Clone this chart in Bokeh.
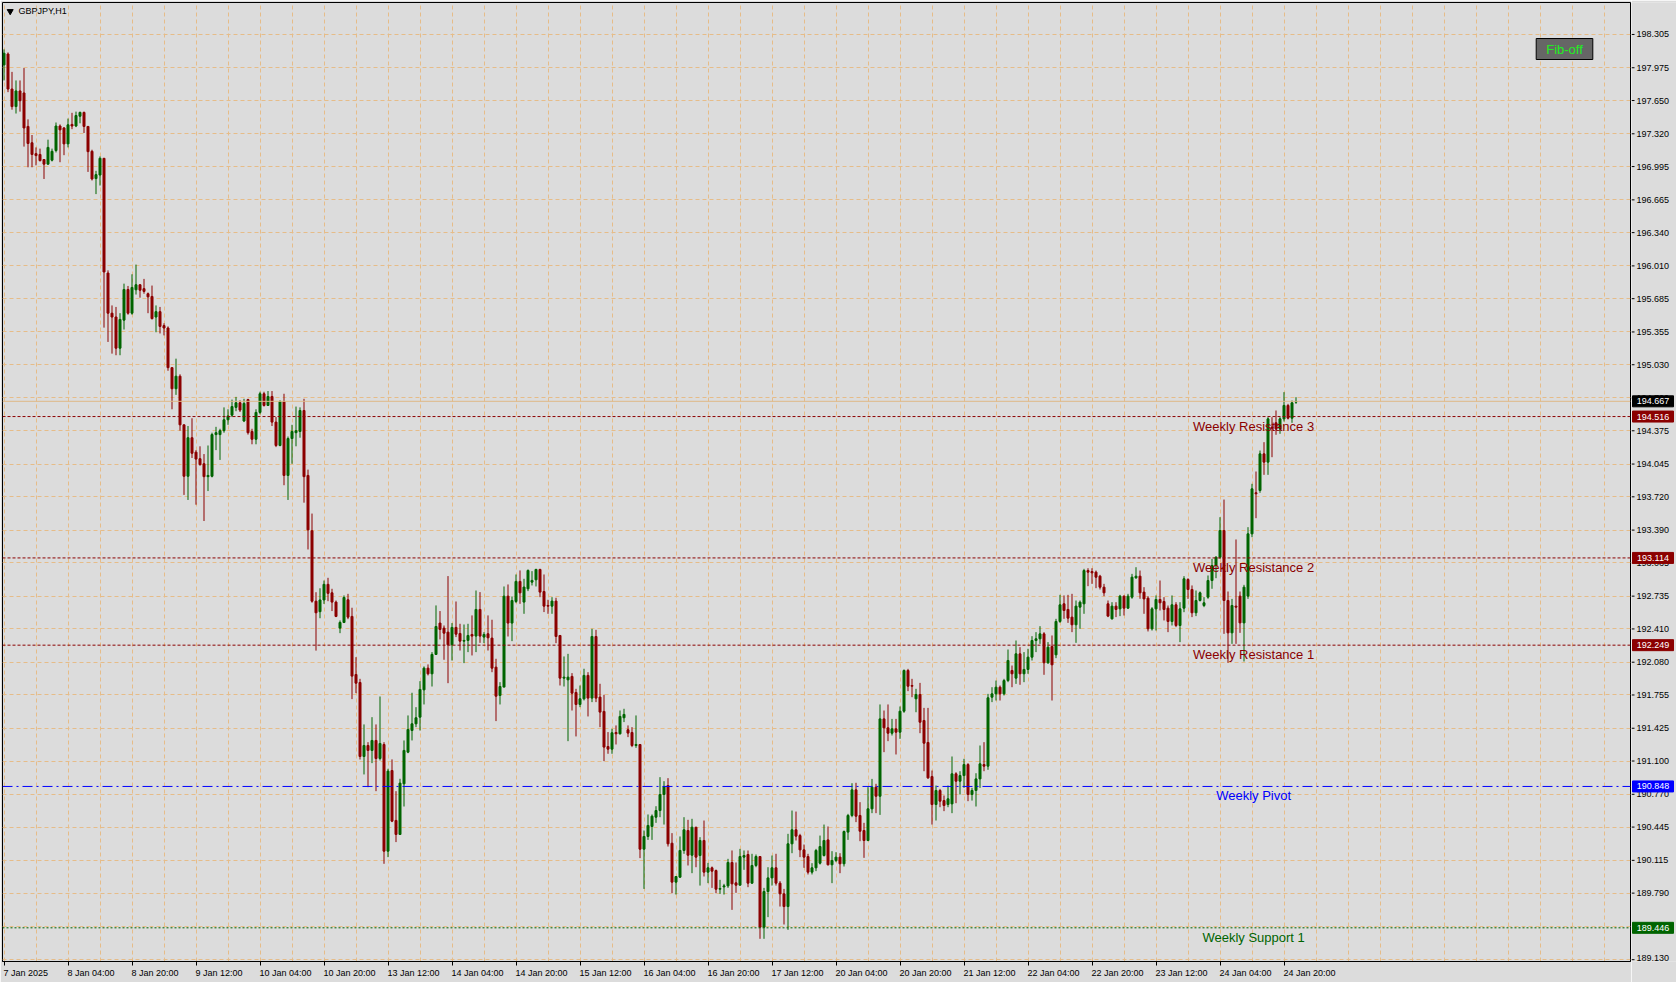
from bokeh.plotting import figure
from bokeh.layouts import row
from bokeh.models import Range1d, FixedTicker, Label, Span, ColumnDataSource
from bokeh.core.properties import value
from bokeh.embed import file_html
from bokeh.resources import INLINE

symbol = "GBPJPY,H1"

opens = [198.003,198.111,197.764,197.590,197.745,197.725,197.393,197.231,197.123,197.115,
197.065,197.019,197.058,197.154,197.397,197.378,197.220,197.413,197.397,197.494,
197.532,197.393,197.146,196.876,196.911,197.077,195.939,195.541,195.503,195.194,
195.472,195.776,195.541,195.773,195.823,195.784,195.734,195.707,195.503,195.556,
195.418,195.394,195.001,194.792,194.916,194.434,193.924,194.306,194.163,194.098,
194.048,193.920,193.924,194.337,194.337,194.376,194.484,194.530,194.607,194.653,
194.472,194.684,194.368,194.291,194.557,194.742,194.626,194.715,194.461,194.229,
194.665,193.932,194.298,194.356,194.368,194.576,193.932,193.384,192.685,192.581,
192.697,192.852,192.768,192.676,192.418,192.474,192.699,192.534,191.958,191.879,
191.145,191.254,191.205,191.304,191.125,191.264,190.206,191.006,190.511,190.372,
190.874,191.188,191.403,191.469,191.535,191.806,192.021,191.965,192.157,192.468,
192.418,192.378,192.253,192.425,192.365,192.289,192.296,192.355,192.339,192.603,
192.329,192.362,192.319,192.031,191.750,191.833,192.735,192.468,192.682,192.881,
192.676,192.808,192.874,192.897,193.000,192.781,192.643,192.636,192.686,192.345,
191.922,191.905,191.939,191.780,191.661,191.717,191.949,191.724,192.335,191.734,
191.592,191.244,191.218,191.383,191.370,191.529,191.410,191.383,191.254,191.264,
190.226,190.352,190.451,190.543,190.609,190.768,190.857,190.285,189.899,189.948,
190.213,190.411,190.166,190.444,190.163,190.312,189.998,190.041,190.014,189.829,
189.852,189.862,190.094,189.892,189.869,190.147,190.173,189.889,190.064,190.153,
189.452,189.806,189.941,190.041,189.889,189.783,189.657,190.279,190.418,190.361,
190.219,190.153,189.998,190.041,190.087,190.163,190.318,190.071,190.114,190.147,
190.081,190.395,190.560,190.814,190.560,190.411,190.312,190.626,190.841,190.751,
191.518,191.429,191.376,191.419,191.386,191.594,191.998,191.849,191.717,191.760,
191.502,191.284,190.946,190.669,190.808,190.708,190.669,190.675,190.973,190.900,
190.956,191.065,190.768,190.808,190.923,191.065,191.049,191.733,191.766,191.832,
191.766,191.898,191.998,191.922,192.163,191.965,192.008,192.130,192.295,192.312,
192.361,192.074,192.236,192.153,192.484,192.659,192.603,192.527,192.451,192.626,
192.659,192.989,192.979,192.973,192.933,192.824,192.659,192.510,192.636,192.609,
192.735,192.616,192.725,192.917,192.933,192.775,192.715,192.411,192.609,192.702,
192.682,192.616,192.484,192.649,192.444,192.616,192.900,192.801,192.570,192.692,
192.642,192.725,192.890,193.039,193.121,193.386,192.692,192.371,192.636,192.735,
192.470,192.735,193.353,193.760,193.783,194.146,194.064,194.411,194.454,194.394,
194.493,194.626,194.500,194.659]

highs = [198.157,198.127,197.934,197.849,197.849,197.972,197.463,197.308,197.185,197.173,
197.065,197.262,197.173,197.432,197.413,197.386,197.471,197.528,197.540,197.540,
197.540,197.393,197.162,196.953,197.096,197.077,195.966,195.618,195.603,195.541,
195.834,195.811,195.927,196.023,195.827,195.881,195.746,195.815,195.618,195.603,
195.441,195.410,195.001,195.090,194.935,194.434,194.422,194.499,194.183,194.221,
194.144,194.229,194.356,194.414,194.395,194.607,194.588,194.684,194.711,194.677,
194.692,194.692,194.395,194.588,194.762,194.762,194.769,194.769,194.511,194.677,
194.742,194.318,194.434,194.615,194.607,194.692,193.990,193.554,192.774,192.813,
192.890,192.917,192.808,192.692,192.494,192.742,192.758,192.620,192.130,191.915,
191.463,191.287,191.535,191.463,191.740,191.287,191.023,191.116,190.801,190.924,
191.304,191.552,191.777,191.634,191.892,192.038,192.058,192.180,192.643,192.587,
192.444,192.934,192.468,192.682,192.461,192.454,192.461,192.544,192.791,192.775,
192.378,192.544,192.501,192.114,191.882,192.831,192.851,192.732,192.950,192.990,
192.907,193.000,192.983,193.006,193.006,192.950,192.699,192.725,192.719,192.345,
192.137,192.163,191.972,191.816,191.849,192.015,191.981,192.411,192.401,191.866,
191.757,191.387,191.420,191.453,191.601,191.618,191.453,191.436,191.552,191.264,
190.411,190.570,190.570,190.652,190.940,190.900,190.930,190.385,189.955,190.352,
190.543,190.517,190.527,190.444,190.345,190.510,190.090,190.054,190.024,189.922,
189.882,190.130,190.213,190.094,190.229,190.213,190.213,190.180,190.173,190.153,
189.842,190.047,190.163,190.180,189.909,189.832,190.378,190.609,190.599,190.378,
190.272,190.180,190.087,190.229,190.361,190.470,190.451,190.206,190.196,190.186,
190.411,190.576,190.880,190.884,190.692,190.487,190.841,190.923,190.874,191.661,
191.601,191.661,191.518,191.518,191.641,192.008,192.014,191.915,191.816,191.875,
191.627,191.627,191.006,190.857,190.824,190.758,190.857,191.145,190.989,190.999,
191.122,191.079,190.834,190.979,191.254,191.287,191.766,191.832,191.898,191.849,
191.915,192.206,192.047,192.295,192.229,192.180,192.213,192.338,192.378,192.437,
192.378,192.279,192.345,192.510,192.748,192.742,192.748,192.758,192.692,192.692,
193.006,193.012,193.012,192.989,192.946,192.857,192.692,192.675,192.675,192.748,
192.742,192.758,192.956,193.022,192.989,192.824,192.735,192.626,192.742,192.890,
192.725,192.642,192.742,192.675,192.675,192.933,192.913,192.841,192.791,192.781,
192.725,192.940,193.105,193.131,193.518,193.693,192.781,192.708,193.297,192.781,
192.847,193.419,193.849,193.971,194.179,194.262,194.510,194.510,194.576,194.510,
194.758,194.642,194.675,194.708]

lows = [197.849,197.733,197.559,197.521,197.540,197.193,196.988,196.988,197.007,197.046,
196.872,197.015,197.046,197.135,197.038,197.108,197.185,197.366,197.386,197.424,
197.328,196.942,196.857,196.722,196.807,195.398,195.256,195.140,195.124,195.124,
195.379,195.526,195.526,195.726,195.695,195.734,195.541,195.479,195.352,195.340,
195.321,194.970,194.588,194.731,194.376,193.739,193.689,194.105,193.642,194.028,
193.480,193.777,193.913,194.183,194.086,194.356,194.434,194.511,194.569,194.561,
194.461,194.337,194.241,194.241,194.538,194.615,194.626,194.422,194.213,194.221,
193.835,193.689,194.048,194.221,194.306,193.662,193.198,192.670,192.195,192.516,
192.658,192.685,192.587,192.527,192.368,192.468,192.507,191.714,191.773,191.115,
190.967,190.841,191.079,190.801,191.106,190.081,190.147,190.494,190.296,190.372,
190.649,191.178,191.304,191.436,191.403,191.661,191.949,191.839,192.157,192.306,
192.104,191.872,192.097,192.329,192.196,192.071,192.180,192.147,192.180,192.272,
192.269,192.196,191.981,191.496,191.661,191.833,192.335,192.289,192.666,192.659,
192.560,192.785,192.841,192.831,192.725,192.577,192.560,192.560,192.269,191.849,
191.839,191.297,191.601,191.344,191.634,191.701,191.542,191.684,191.684,191.436,
191.099,191.172,191.172,191.264,191.363,191.486,191.337,191.238,191.231,190.137,
189.832,190.318,190.318,190.487,190.543,190.470,190.252,189.789,189.776,189.942,
190.180,190.064,189.988,190.047,189.865,189.955,189.889,189.842,189.789,189.783,
189.776,189.842,189.624,189.793,189.865,190.021,189.849,189.882,190.047,189.337,
189.337,189.552,189.865,189.865,189.657,189.479,189.426,190.186,190.312,190.147,
190.041,189.975,189.975,190.008,190.074,190.153,190.064,189.889,190.097,189.988,
190.054,190.318,190.543,190.494,190.305,190.140,190.305,190.583,190.583,190.566,
191.188,191.297,191.353,191.165,191.320,191.578,191.793,191.733,191.584,191.376,
190.999,190.923,190.470,190.510,190.642,190.603,190.642,190.583,190.682,190.768,
190.834,190.702,190.708,190.649,190.834,190.999,191.013,191.684,191.700,191.700,
191.750,191.882,191.832,191.865,191.856,191.882,191.965,192.097,192.180,192.262,
191.955,192.064,191.700,192.120,192.470,192.510,192.470,192.378,192.272,192.411,
192.560,192.834,192.857,192.814,192.801,192.735,192.527,192.503,192.527,192.537,
192.543,192.609,192.709,192.907,192.709,192.560,192.385,192.394,192.394,192.593,
192.494,192.378,192.444,192.428,192.279,192.576,192.708,192.527,192.537,192.682,
192.626,192.709,192.808,192.913,193.105,192.361,192.074,192.262,192.262,192.371,
192.087,192.708,193.320,193.508,193.760,193.938,193.938,194.113,194.335,194.345,
194.467,194.487,194.454,194.642]

closes = [198.119,197.764,197.590,197.745,197.648,197.378,197.224,197.115,197.104,197.054,
197.019,197.185,197.146,197.397,197.359,197.220,197.409,197.397,197.501,197.532,
197.393,197.143,196.872,196.915,197.077,195.950,195.541,195.503,195.194,195.479,
195.776,195.541,195.796,195.823,195.769,195.757,195.703,195.487,195.556,195.410,
195.394,195.001,194.792,194.916,194.434,193.924,194.306,194.152,194.094,194.040,
193.920,193.932,194.337,194.356,194.376,194.484,194.522,194.615,194.653,194.580,
194.646,194.356,194.291,194.557,194.742,194.626,194.715,194.461,194.229,194.665,
193.932,194.298,194.368,194.376,194.576,193.920,193.392,192.685,192.570,192.697,
192.852,192.763,192.676,192.534,192.474,192.722,192.527,191.942,191.872,191.145,
191.254,191.205,191.304,191.125,191.274,190.206,191.000,190.504,190.372,190.881,
191.205,191.413,191.469,191.529,191.810,192.021,191.965,192.157,192.434,192.405,
192.368,192.253,192.425,192.358,192.289,192.296,192.345,192.339,192.603,192.339,
192.355,192.322,192.021,191.743,191.839,192.735,192.468,192.692,192.881,192.768,
192.825,192.990,192.891,193.000,192.775,192.636,192.636,192.686,192.335,191.922,
191.932,191.932,191.773,191.661,191.717,191.949,191.724,192.335,191.724,191.585,
191.238,191.218,191.380,191.370,191.542,191.562,191.377,191.254,191.264,190.226,
190.352,190.461,190.553,190.609,190.768,190.847,190.279,189.899,189.955,190.213,
190.418,190.166,190.444,190.147,190.312,189.998,190.041,190.008,189.829,189.836,
189.862,190.094,189.882,189.869,190.153,190.163,189.889,190.064,190.153,189.452,
189.806,189.941,190.041,189.889,189.783,189.657,190.279,190.418,190.355,190.219,
190.147,189.998,190.041,190.213,190.252,190.312,190.071,190.114,190.147,190.081,
190.401,190.560,190.814,190.553,190.404,190.312,190.626,190.841,190.751,191.518,
191.429,191.376,191.419,191.386,191.594,191.998,191.842,191.842,191.760,191.485,
191.277,190.933,190.669,190.808,190.702,190.659,190.725,190.973,190.900,190.956,
191.065,190.768,190.808,190.923,191.072,191.049,191.727,191.766,191.832,191.766,
191.898,192.097,191.965,192.163,191.965,192.008,192.130,192.295,192.312,192.361,
192.074,192.229,192.054,192.484,192.649,192.593,192.517,192.451,192.636,192.675,
192.989,192.973,192.966,192.923,192.824,192.768,192.537,192.636,192.603,192.735,
192.616,192.735,192.923,192.933,192.768,192.708,192.411,192.609,192.702,192.669,
192.603,192.484,192.649,192.444,192.609,192.907,192.801,192.570,192.692,192.768,
192.669,192.890,193.039,193.121,193.386,192.692,192.371,192.642,192.626,192.470,
192.824,193.353,193.799,193.750,194.146,194.064,194.493,194.401,194.394,194.493,
194.626,194.500,194.652,194.667]

x_tick_step = 16
x_tick_labels = ["7 Jan 2025", "8 Jan 04:00", "8 Jan 20:00", "9 Jan 12:00", "10 Jan 04:00",
                 "10 Jan 20:00", "13 Jan 12:00", "14 Jan 04:00", "14 Jan 20:00", "15 Jan 12:00",
                 "16 Jan 04:00", "16 Jan 20:00", "17 Jan 12:00", "20 Jan 04:00", "20 Jan 20:00",
                 "21 Jan 12:00", "22 Jan 04:00", "22 Jan 20:00", "23 Jan 12:00", "24 Jan 04:00",
                 "24 Jan 20:00"]

y_tick_labels = ["198.305", "197.975", "197.650", "197.320", "196.995", "196.665", "196.340",
                 "196.010", "195.685", "195.355", "195.030", "194.700", "194.375", "194.045",
                 "193.720", "193.390", "193.065", "192.735", "192.410", "192.080", "191.755",
                 "191.425", "191.100", "190.770", "190.445", "190.115", "189.790", "189.130"]
hidden_grid_prices = [189.460]

level_names = ["Weekly Resistance 3", "Weekly Resistance 2", "Weekly Resistance 1",
               "Weekly Pivot", "Weekly Support 1"]
level_prices = [194.516, 193.114, 192.249, 190.848, 189.446]
level_colors = ["#8B0000", "#8B0000", "#8B0000", "#0000FF", "#006400"]
level_dashes = ["3 2", "3 2", "3 2", "10 4 2 4", "2 2"]
level_label_bar = 312.4
bid_price = 194.667

BULL, BEAR = "#006400", "#8B0000"
BG = "#DCDCDC"
GRID = "#E6BC88"
FONT = "Liberation Sans"

# ---- geometry (pixels) ----
TOTAL_W, TOTAL_H = 1676, 982
AXIS_W = 45
MW = TOTAL_W - AXIS_W
FL, FT, FR, FB = 2, 2, 1, 21
fw, fh = MW - FL - FR, TOTAL_H - FT - FB
BAR_PX = 4.0
x0 = -0.375
x1 = x0 + fw / BAR_PX
y0, y1 = 189.112, 198.622
ppy = (y1 - y0) / fh
ppx = (x1 - x0) / fw
yr = Range1d(y0, y1)

p = figure(width=MW, height=TOTAL_H, output_backend="svg", toolbar_location=None,
           x_range=Range1d(x0, x1), y_range=yr, y_axis_location=None,
           min_border_left=FL, min_border_top=FT, min_border_right=FR,
           min_border_bottom=FB, title=None)
p.background_fill_color = BG
p.border_fill_color = BG
p.outline_line_color = "black"
p.outline_line_width = 1

yt = [float(s) for s in y_tick_labels]
p.xgrid.ticker = FixedTicker(ticks=list(range(0, int(x1) + 1, 8)))
p.ygrid.ticker = FixedTicker(ticks=yt + hidden_grid_prices)
for g in (p.xgrid, p.ygrid):
    g.grid_line_color = GRID
    g.grid_line_dash = "4 3"
    g.grid_line_width = 1

# x axis: labels sit right of their tick (terminal style) -> label centres shifted
CW = {" ": 0.278, ":": 0.278, "J": 0.5}
def text_px(s, size=9.0):
    return sum(CW.get(ch, 0.556) for ch in s) * size

tick_bars = [k * x_tick_step for k in range(len(x_tick_labels))]
centres = [b + (text_px(s) / 2 - 0.5) / BAR_PX for b, s in zip(tick_bars, x_tick_labels)]
xa = p.xaxis[0]
xa.ticker = FixedTicker(ticks=centres, minor_ticks=tick_bars)
xa.major_label_overrides = {c: s for c, s in zip(centres, x_tick_labels)}
xa.major_label_text_font = FONT
xa.major_label_text_font_size = "9px"
xa.major_label_text_color = "black"
xa.major_label_standoff = 2
xa.major_tick_line_color = None
xa.major_tick_out = 4
xa.major_tick_in = 0
xa.minor_tick_line_color = "black"
xa.minor_tick_out = 4
xa.minor_tick_in = 0
xa.axis_line_color = "black"

# candles
idx = list(range(len(opens)))
colors = [BULL if c >= o else BEAR for o, c in zip(opens, closes)]
src = ColumnDataSource(dict(
    x=idx, high=[max(h, o, c) for h, o, c in zip(highs, opens, closes)],
    low=[min(l, o, c) for l, o, c in zip(lows, opens, closes)],
    top=[max(o, c) for o, c in zip(opens, closes)],
    bottom=[min(o, c) for o, c in zip(opens, closes)],
    color=colors))
p.segment(x0="x", y0="low", x1="x", y1="high", line_color="color", line_width=1, source=src)
p.vbar(x="x", width=0.5, top="top", bottom="bottom", fill_color="color",
       line_color="color", line_width=1, source=src)

# levels
p.add_layout(Span(location=bid_price, dimension="width", line_color="#DEB887", line_width=1))
for lp, lc, ld in zip(level_prices, level_colors, level_dashes):
    p.add_layout(Span(location=lp, dimension="width", line_color=lc, line_width=1, line_dash=ld))
p.text(x=[level_label_bar] * len(level_prices), y=level_prices, text=level_names,
       text_color=level_colors, text_align="center", text_baseline="top", y_offset=2,
       text_font=value(FONT), text_font_size="13px")

# symbol caption with small triangle
p.add_layout(Label(x=16, y=fh - 8.5, x_units="screen", y_units="screen", text=symbol,
                   text_align="left", text_baseline="middle", text_color="black",
                   text_font=FONT, text_font_size="9px"))
p.scatter(x=[x0 + 7.7 * ppx], y=[y1 - 8.8 * ppy], marker="inverted_triangle", size=6,
          fill_color="black", line_color="black")

# Fib-off button
p.add_layout(Label(x=fw - 66, y=fh - 46.5, x_units="screen", y_units="screen", text="Fib-off",
                   text_align="center", text_baseline="middle", text_color="#22EE22",
                   text_font=FONT, text_font_size="13px", background_fill_color="#666666",
                   border_line_color="black", border_line_width=1, padding=(10, 3)))

# ---- price scale panel (right), frame aligned with the chart frame ----
p2 = figure(width=AXIS_W, height=TOTAL_H, output_backend="svg", toolbar_location=None,
            x_range=Range1d(0, AXIS_W), y_range=yr,
            x_axis_location=None, y_axis_location=None, min_border_left=0,
            min_border_right=0, min_border_top=FT, min_border_bottom=FB, title=None)
p2.background_fill_color = BG
p2.border_fill_color = BG
p2.outline_line_color = None
p2.xgrid.visible = False
p2.ygrid.visible = False
p2.segment(x0=[0] * len(yt), x1=[3] * len(yt), y0=yt, y1=yt, line_color="black", line_width=1)
# keep the lowest label inside the panel's drawing area
lab_offsets = [0] * (len(yt) - 1) + [-2]
p2.text(x=[5] * len(yt), y=yt, text=y_tick_labels, text_align="left", text_baseline="middle",
        y_offset=lab_offsets, text_color="black", text_font=value(FONT), text_font_size="9px")

tag_prices = [bid_price] + level_prices
tag_colors = ["#000000"] + level_colors
tag_text = [f"{v:.3f}" for v in tag_prices]
p2.rect(x=[21.5] * len(tag_prices), y=tag_prices, width=41, height=11, height_units="screen",
        fill_color=tag_colors, line_color=tag_colors)
p2.text(x=[21.5] * len(tag_prices), y=tag_prices, text=tag_text, text_align="center",
        text_baseline="middle", text_color="white", text_font=value(FONT), text_font_size="9px")

layout = row(p, p2, spacing=0)
open("out.html", "w").write(file_html(layout, INLINE))
